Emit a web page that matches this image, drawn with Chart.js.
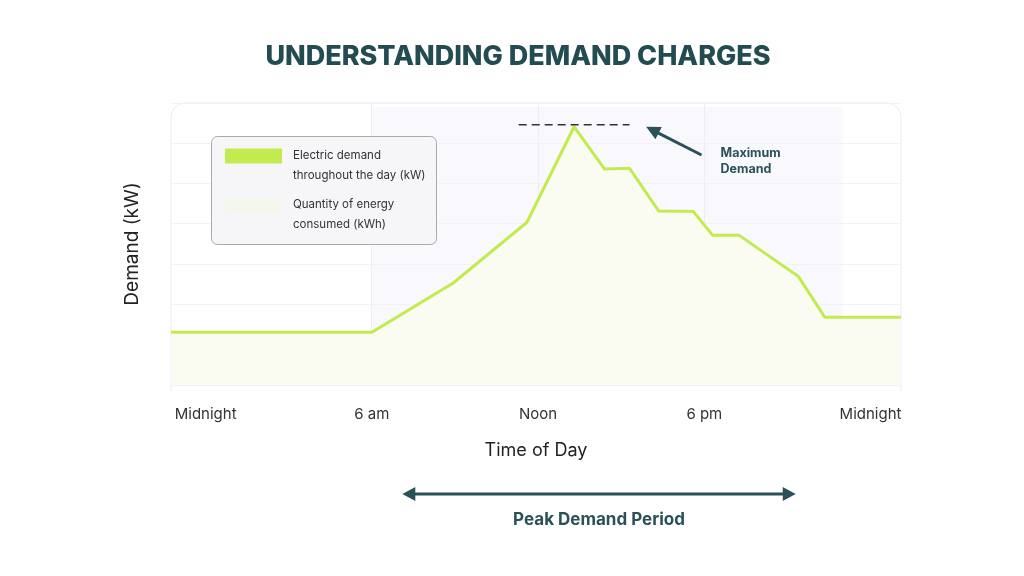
<!DOCTYPE html>
<html>
<head>
<meta charset="utf-8">
<script src="https://cdn.jsdelivr.net/npm/chart.js@4.4.1/dist/chart.umd.min.js"></script>
<style>
  html, body { margin: 0; padding: 0; background: #fff; }
  #wrap { width: 1024px; height: 576px; }
</style>
</head>
<body>
<div id="wrap"><canvas id="demandChart"></canvas></div>
<script>
// hour of day (x) and demand in kW (y)
const hours  = [-1.25, 6, 8.95, 11.6, 13.3, 14.4, 15.3, 16.35, 17.6, 18.3, 19.25, 21.4, 22.35, 25.1];
const demand = [1.31, 1.31, 2.54, 4.04, 6.41, 5.36, 5.38, 4.32, 4.31, 3.72, 3.72, 2.69, 1.68, 1.68];

const xTicks = [0, 6, 12, 18, 24];
const tickLabels = ['Midnight', '6 am', 'Noon', '6 pm', 'Midnight'];

const legendLabels = [
  ['Electric demand', 'throughout the day (kW)'],
  ['Quantity of energy', 'consumed (kWh)']
];

const peakBand = [6, 23];        // shaded background
const peakArrow = [7.1, 21.3];   // "Peak Demand Period" arrow
const maxLabel = ['Maximum', 'Demand'];

const teal = '#2a5157';
const lime = '#c3eb4f';

function arrowHead(ctx, tx, ty, fx, fy, len, half) {
  const a = Math.atan2(ty - fy, tx - fx);
  const bx = tx - len * Math.cos(a), by = ty - len * Math.sin(a);
  ctx.beginPath();
  ctx.moveTo(tx, ty);
  ctx.lineTo(bx + half * Math.sin(a), by - half * Math.cos(a));
  ctx.lineTo(bx - half * Math.sin(a), by + half * Math.cos(a));
  ctx.closePath();
  ctx.fill();
}

const overlays = {
  id: 'overlays',
  beforeDraw(chart) {
    const { ctx, chartArea: a, scales: { x } } = chart;
    const r = 14;
    ctx.save();
    // card behind the plot
    ctx.beginPath();
    ctx.moveTo(a.left, a.bottom + 6);
    ctx.lineTo(a.left, a.top + r);
    ctx.arcTo(a.left, a.top, a.left + r, a.top, r);
    ctx.lineTo(a.right - r, a.top);
    ctx.arcTo(a.right, a.top, a.right, a.top + r, r);
    ctx.lineTo(a.right, a.bottom + 6);
    ctx.fillStyle = '#fff';
    ctx.fill();
    ctx.strokeStyle = '#ececf0';
    ctx.lineWidth = 1;
    ctx.stroke();
    // peak period band
    const b0 = x.getPixelForValue(peakBand[0]);
    const b1 = x.getPixelForValue(peakBand[1]);
    ctx.fillStyle = '#f9f9fd';
    ctx.fillRect(b0, a.top + 4, b1 - b0, a.bottom - a.top - 4);
    ctx.restore();
  },
  afterDraw(chart) {
    const { ctx, chartArea: a, scales: { x, y } } = chart;
    ctx.save();

    // legend box
    const lx = a.left + 40.5, ly = a.top + 33.5;
    ctx.beginPath();
    ctx.roundRect(lx, ly, 225, 108, 6);
    ctx.fillStyle = '#f6f6f9';
    ctx.fill();
    ctx.strokeStyle = '#a9a9ae';
    ctx.lineWidth = 1;
    ctx.stroke();
    const swatch = [lime, '#f3f7ec'];
    ctx.font = '11.5px Inter';
    ctx.textBaseline = 'middle';
    legendLabels.forEach((lines, i) => {
      const top = ly + 12 + i * 49;
      ctx.fillStyle = swatch[i];
      ctx.fillRect(lx + 13.5, top, 57, 15);
      ctx.fillStyle = '#333';
      lines.forEach((t, j) => ctx.fillText(t, lx + 81.5, top + 7 + j * 20));
    });

    // maximum demand marker
    const maxVal = Math.max(...demand);
    const peakHour = hours[demand.indexOf(maxVal)];
    const my = y.getPixelForValue(maxVal) - 2;
    ctx.setLineDash([8, 5]);
    ctx.strokeStyle = '#333';
    ctx.lineWidth = 1.5;
    ctx.beginPath();
    ctx.moveTo(x.getPixelForValue(peakHour - 2), my);
    ctx.lineTo(x.getPixelForValue(peakHour + 2), my);
    ctx.stroke();
    ctx.setLineDash([]);

    const tipX = x.getPixelForValue(peakHour + 2.6), tipY = my + 2;
    const tailX = x.getPixelForValue(peakHour + 4.6), tailY = y.getPixelForValue(maxVal - 0.7);
    ctx.strokeStyle = teal;
    ctx.fillStyle = teal;
    ctx.lineWidth = 3;
    ctx.beginPath();
    ctx.moveTo(tailX, tailY);
    const ang = Math.atan2(tipY - tailY, tipX - tailX);
    ctx.lineTo(tipX - 10 * Math.cos(ang), tipY - 10 * Math.sin(ang));
    ctx.stroke();
    arrowHead(ctx, tipX, tipY, tailX, tailY, 14, 7);

    ctx.font = 'bold 12.5px Inter';
    ctx.fillStyle = teal;
    ctx.textAlign = 'left';
    maxLabel.forEach((t, j) => ctx.fillText(t, tailX + 19, tailY - 2 + j * 16));

    // peak demand period arrow
    const py = a.bottom + 109;
    const p0 = x.getPixelForValue(peakArrow[0]);
    const p1 = x.getPixelForValue(peakArrow[1]);
    ctx.lineWidth = 3;
    ctx.beginPath();
    ctx.moveTo(p0 + 10, py);
    ctx.lineTo(p1 - 10, py);
    ctx.stroke();
    arrowHead(ctx, p0, py, p1, py, 13, 7);
    arrowHead(ctx, p1, py, p0, py, 13, 7);
    ctx.font = 'bold 17px Inter';
    ctx.textAlign = 'center';
    ctx.fillText('Peak Demand Period', (p0 + p1) / 2, py + 26);

    ctx.restore();
  }
};

const innerTicks = xTicks.slice(1, -1);

new Chart(document.getElementById('demandChart'), {
  type: 'line',
  data: {
    datasets: [{
      label: legendLabels[0].join(' '),
      data: hours.map((h, i) => ({ x: h, y: demand[i] })),
      borderColor: lime,
      borderWidth: 3,
      backgroundColor: '#fafcf1',
      fill: 'origin',
      tension: 0,
      pointRadius: 0
    }]
  },
  options: {
    responsive: true,
    maintainAspectRatio: false,
    animation: false,
    layout: { padding: { left: 12, right: 0, top: 0, bottom: 115 } },
    plugins: {
      legend: { display: false },
      tooltip: { enabled: false },
      title: {
        display: true,
        text: 'UNDERSTANDING DEMAND CHARGES',
        color: '#234c51',
        font: { family: 'Inter', size: 27, weight: '800' },
        padding: { top: 41, bottom: 29.6 }
      }
    },
    scales: {
      x: {
        type: 'linear',
        min: -1.25,
        max: 25.1,
        afterBuildTicks: (scale) => { scale.ticks = xTicks.map(v => ({ value: v })); },
        afterFit: (scale) => { scale.height = 76; },
        ticks: {
          autoSkip: false,
          maxRotation: 0,
          padding: 20,
          color: '#333',
          font: { family: 'Inter', size: 15 },
          callback: (v) => tickLabels[xTicks.indexOf(v)]
        },
        grid: {
          drawTicks: false,
          color: (c) => (c.tick && innerTicks.includes(c.tick.value)) ? '#eeeef2' : 'rgba(0,0,0,0)'
        },
        border: { display: false },
        title: {
          display: true,
          text: 'Time of Day',
          color: '#222',
          font: { family: 'Inter', size: 18 },
          padding: { top: 17, bottom: 0 }
        }
      },
      y: {
        min: 0,
        max: 7,
        ticks: { display: false, stepSize: 1 },
        grid: { drawTicks: false, color: '#f2f2f5' },
        border: { display: false },
        afterFit: (scale) => { scale.width = 159; },
        title: {
          display: true,
          text: 'Demand (kW)',
          color: '#222',
          font: { family: 'Inter', size: 19 },
          padding: { top: 109, bottom: 0 }
        }
      },
      // empty right-hand axis that only reserves the margin
      yRight: {
        position: 'right',
        display: true,
        ticks: { display: false },
        grid: { display: false },
        border: { display: false },
        afterFit: (scale) => { scale.width = 123; }
      }
    }
  },
  plugins: [overlays]
});
</script>
</body>
</html>
